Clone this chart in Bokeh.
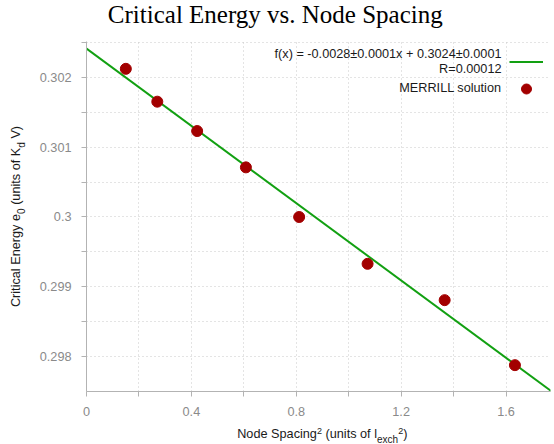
import math
from bokeh.plotting import figure
from bokeh.layouts import column, row
from bokeh.models import (Range1d, FixedTicker, CustomJSTickFormatter, Label,
                          Legend, LegendItem)
from bokeh.embed import file_html
from bokeh.resources import INLINE

# ---------------- data ----------------
node_spacing_sq = [0.150, 0.270, 0.422, 0.608, 0.811, 1.072, 1.366, 1.634]
critical_energy = [0.30212, 0.30165, 0.30123, 0.30071, 0.30000, 0.29933, 0.29881, 0.29788]

fit_slope = -0.002765
fit_intercept = 0.30241
fit_x = [0.0, 1.8]

x_ticks = [0.0, 0.4, 0.8, 1.2, 1.6]
x_minor_ticks = [0.2, 0.6, 1.0, 1.4]
y_ticks = [0.298, 0.299, 0.300, 0.301, 0.302]
y_minor_ticks = [0.2975, 0.2985, 0.2995, 0.3005, 0.3015, 0.3025]

title_text = "Critical Energy vs. Node Spacing"
legend_fit_line1 = "f(x) = -0.0028±0.0001x + 0.3024±0.0001"
legend_fit_line2 = "R=0.00012"
legend_points_label = "MERRILL solution"

x_label_parts = [("Node Spacing", "main"), ("2", "sup"), (" (units of l", "main"),
                 ("exch", "sub"), ("2", "sup"), (")", "main")]
y_label_parts = [("Critical Energy e", "main"), ("0", "sub"), (" (units of K", "main"),
                 ("d", "sub"), (" V)", "main")]

# ---------------- style ----------------
GREEN = "#12a012"
RED = "#a30000"
TEXT = "#1a1a1a"
TICK_TEXT = "#8a8a8a"
AXIS = "#b3b3b3"
GRID = "#c8c8c8"
FONT = "Liberation Sans"
MAIN_PX = 12.7
SUP_PX = 9.0
SUB_PX = 10.0
BASE_CORR = 0.4      # empirical baseline correction (fraction of font size)

TOTAL_W, TOTAL_H = 554, 444
TITLE_H = 34
YLAB_W = 30
XLAB_H = 20
MAIN_W = TOTAL_W - YLAB_W
MAIN_H = TOTAL_H - XLAB_H - TITLE_H
FRAME_L, FRAME_R, FRAME_T, FRAME_B = 86, 550, 41, 391   # page coords of the plot area
PX_PER_X = 262.2
MB_TOP = FRAME_T - TITLE_H
MB_BOTTOM = TITLE_H + MAIN_H - FRAME_B

p = figure(width=MAIN_W, height=MAIN_H, output_backend="svg", toolbar_location=None,
           title=None,
           x_range=Range1d(0, (FRAME_R - FRAME_L) / PX_PER_X),
           y_range=Range1d(0.297503, 0.302511),
           min_border_left=FRAME_L - YLAB_W, min_border_right=TOTAL_W - FRAME_R,
           min_border_top=MB_TOP, min_border_bottom=MB_BOTTOM)
p.outline_line_color = None
p.background_fill_color = "white"

fmt = CustomJSTickFormatter(code="return String(parseFloat(tick.toFixed(6)));")
p.xaxis.ticker = FixedTicker(ticks=x_ticks, minor_ticks=x_minor_ticks)
p.yaxis.ticker = FixedTicker(ticks=y_ticks, minor_ticks=y_minor_ticks)
for ax in (p.xaxis[0], p.yaxis[0]):
    ax.formatter = fmt
    ax.axis_line_color = AXIS
    ax.major_tick_line_color = AXIS
    ax.minor_tick_line_color = AXIS
    ax.major_tick_in = 0
    ax.minor_tick_in = 0
    ax.major_tick_out = 5
    ax.minor_tick_out = 5
    ax.major_label_text_font = FONT
    ax.major_label_text_font_size = f"{MAIN_PX}px"
    ax.major_label_text_color = TICK_TEXT
p.xaxis.major_label_standoff = 10
p.yaxis.major_label_standoff = 10

for g in (p.xgrid[0], p.ygrid[0]):
    g.grid_line_color = GRID
    g.grid_line_dash = "1 3"
    g.minor_grid_line_color = GRID
    g.minor_grid_line_dash = "1 3"

# ---------------- glyphs ----------------
fit_y = [fit_intercept + fit_slope * xv for xv in fit_x]
line_r = p.line(fit_x, fit_y, line_color=GREEN, line_width=2)
pts_r = p.scatter(node_spacing_sq, critical_energy, size=11,
                  fill_color=RED, line_color=RED)

# ---------------- legend (glyphs on the right, texts right-aligned) ----------------
legend = Legend(items=[LegendItem(label=" ", renderers=[line_r]),
                       LegendItem(label=" ", renderers=[pts_r])],
                location=(509 - FRAME_L, FRAME_B - 100.5), orientation="vertical",
                padding=0, spacing=2, margin=0,
                glyph_width=34, glyph_height=25,
                label_standoff=0, label_width=0, label_height=0,
                label_text_font_size="1px",
                background_fill_alpha=0, border_line_color=None)
p.add_layout(legend)

def lab(fig, text, x, y, size, font=FONT, color=TEXT, **kw):
    fig.add_layout(Label(x=x, y=y, x_units="screen", y_units="screen", text=text,
                         text_font=font, text_font_size=f"{size}px",
                         text_color=color, text_baseline="alphabetic", **kw))

LEG_X = 501 - FRAME_L
for txt, base in ((legend_fit_line1, 59.0), (legend_fit_line2, 73.3), (legend_points_label, 92.5)):
    lab(p, txt, LEG_X, FRAME_B - base + BASE_CORR * MAIN_PX, MAIN_PX, text_align="right")

# ---------------- strips holding title and axis titles ----------------
def strip(w, h, top=0, bottom=0):
    f = figure(width=w, height=h, output_backend="svg", toolbar_location=None,
               title=None, x_axis_type=None, y_axis_type=None, min_border=0,
               min_border_top=top, min_border_bottom=bottom,
               x_range=Range1d(0, 1), y_range=Range1d(0, 1))
    f.outline_line_color = None
    f.grid.visible = False
    return f

# title (page: centre x 274.8, baseline y 24)
title_strip = strip(TOTAL_W, TITLE_H)
lab(title_strip, title_text, 274.8, TITLE_H - 24 + BASE_CORR * 25, 25,
    font="Liberation Serif", color="black", text_align="center")

ARIAL = {' ': 278, '(': 333, ')': 333, 'C': 722, 'E': 667, 'K': 667, 'N': 722,
         'S': 667, 'V': 667, 'a': 556, 'c': 500, 'd': 556, 'e': 556, 'f': 278,
         'g': 556, 'h': 556, 'i': 222, 'l': 222, 'n': 556, 'o': 556, 'p': 556,
         'r': 333, 's': 500, 't': 278, 'u': 556, 'x': 500, 'y': 500}

def text_w(s, size):
    return sum(ARIAL.get(ch, 556) for ch in s) * size / 1000.0

SIZES = {"main": MAIN_PX, "sup": SUP_PX, "sub": SUB_PX}
SHIFT = {"main": 0.0, "sup": 4.7, "sub": -3.5}

def pieces(parts):
    """yield (text without leading blanks, offset along the line, kind)"""
    pos = 0.0
    for txt, kind in parts:
        stripped = txt.lstrip(" ")
        lead = text_w(txt[:len(txt) - len(stripped)], SIZES[kind])
        yield stripped, pos + lead, kind
        pos += text_w(txt, SIZES[kind])

# x-axis title (page: starts x 236.7, baseline y 439)
xlab = strip(TOTAL_W, XLAB_H)
for txt, off, kind in pieces(x_label_parts):
    lab(xlab, txt, 236.7 + off,
        TOTAL_H - 439.0 + SHIFT[kind] + BASE_CORR * SIZES[kind], SIZES[kind],
        text_align="left")

# y-axis title, rotated, centred on the plot area (page baseline x = 21)
ylab = strip(YLAB_W, MAIN_H, top=MB_TOP, bottom=MB_BOTTOM)
total = sum(text_w(t, SIZES[k]) for t, k in y_label_parts)
start = (FRAME_B - FRAME_T) / 2 - total / 2
for txt, off, kind in pieces(y_label_parts):
    lab(ylab, txt, 21.0 - SHIFT[kind] - BASE_CORR * SIZES[kind], start + off, SIZES[kind],
        angle=math.pi / 2, text_align="left")

layout = column(title_strip, row(ylab, p, spacing=0), xlab, spacing=0)
open("out.html", "w").write(file_html(layout, INLINE))
